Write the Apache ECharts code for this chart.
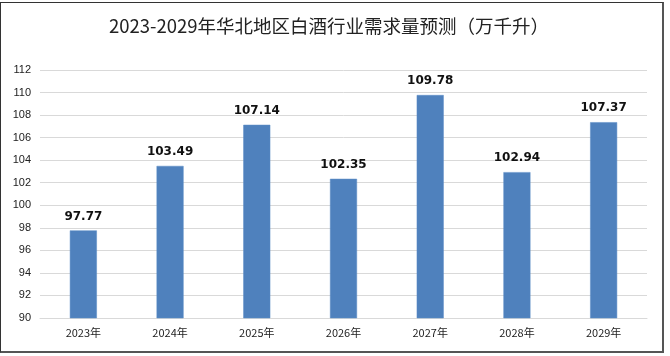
<!DOCTYPE html>
<html>
<head>
<meta charset="utf-8">
<script src="https://cdn.jsdelivr.net/npm/echarts@6/dist/echarts.min.js"></script>
<style>
html,body{margin:0;padding:0;background:#fff;}
#chart{position:absolute;left:0;top:0;width:670px;height:356px;}
#frame{position:absolute;left:0;top:2px;width:661px;height:348px;border-top:1px solid #333;border-left:1px solid #333;border-right:2px solid #555;border-bottom:2px solid #555;pointer-events:none;}
</style>
</head>
<body>
<div id="chart"></div>
<div id="frame"></div>
<script>
const titleText = '2023-2029年华北地区白酒行业需求量预测（万千升）';
const categories = ['2023年','2024年','2025年','2026年','2027年','2028年','2029年'];
const demand = [97.77, 103.49, 107.14, 102.35, 109.78, 102.94, 107.37];
const yMin = 90, yMax = 112, yStep = 2;

const chart = echarts.init(document.getElementById('chart'), null, {renderer:'canvas'});
chart.setOption({
  animation:false,
  backgroundColor:'#fff',
  title:{
    text:titleText,
    left:104,
    top:12,
    textStyle:{fontFamily:'Noto Sans CJK SC',fontSize:18.5,fontWeight:'normal',color:'#222'}
  },
  grid:{left:40,right:23,top:70,bottom:38,containLabel:false},
  xAxis:{
    type:'category',
    data:categories,
    axisLine:{show:true,lineStyle:{color:'#d9d9d9'}},
    axisTick:{show:false},
    axisLabel:{margin:9,fontSize:11,color:'#222',fontFamily:'Noto Sans CJK SC'}
  },
  yAxis:{
    type:'value',
    min:yMin,max:yMax,interval:yStep,
    axisLine:{show:false},
    axisTick:{show:false},
    axisLabel:{margin:9,fontSize:11,color:'#222',fontFamily:'Liberation Sans'},
    splitLine:{lineStyle:{color:'#d9d9d9',width:1}}
  },
  series:[{
    type:'bar',
    data:demand,
    barWidth:27,
    itemStyle:{color:'#4f81bd',borderColor:'#5b8cc6',borderWidth:0.5},
    label:{
      show:true,position:'top',distance:8,
      fontSize:12,fontWeight:'bold',color:'#111',fontFamily:'DejaVu Sans',
      formatter:p=>p.value.toFixed(2)
    }
  }]
});
</script>
</body>
</html>
